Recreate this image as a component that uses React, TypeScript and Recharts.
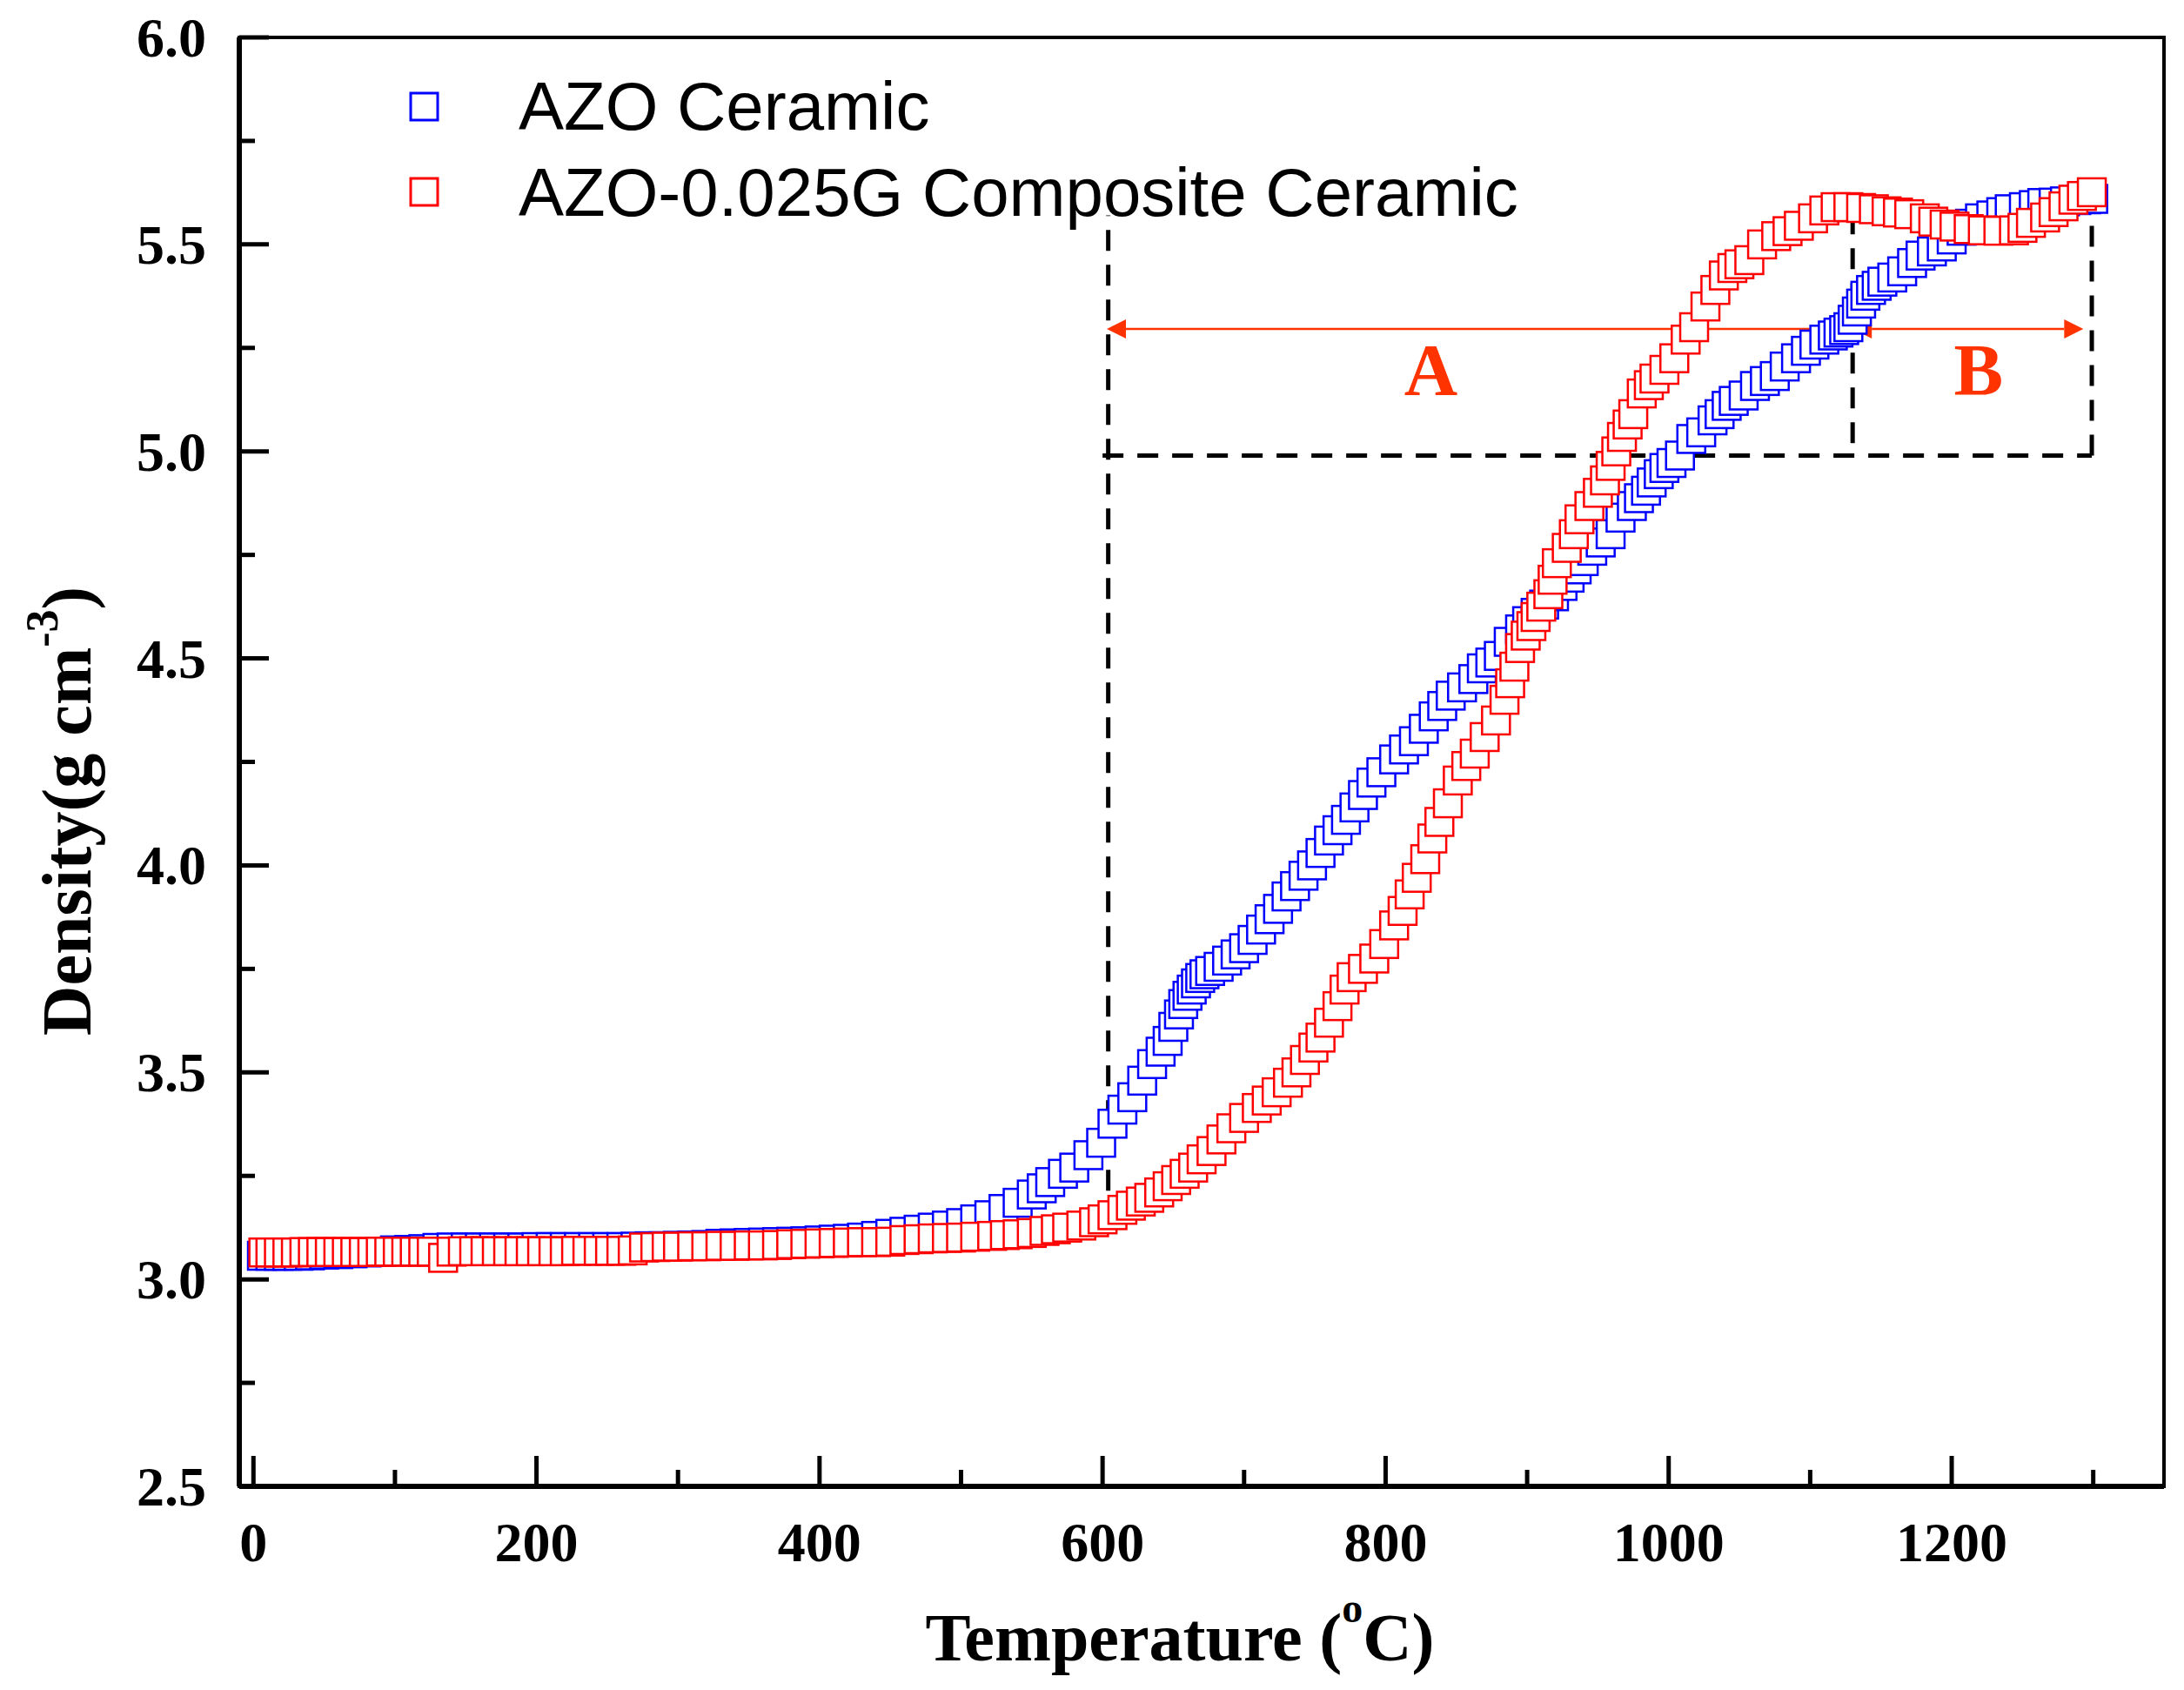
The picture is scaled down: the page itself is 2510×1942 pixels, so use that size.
import React from "react";
import {
  ScatterChart,
  Scatter,
  XAxis,
  YAxis,
  ReferenceLine,
  ReferenceDot,
  ReferenceArea,
  Legend,
} from "recharts";

// [temperature °C, density g cm-3]
const AZO_POINTS: [number, number][] = [
  [6, 3.057], [12, 3.057], [18, 3.057], [24, 3.057], [32, 3.057], [40, 3.058],
  [50, 3.06], [60, 3.061], [70, 3.063], [80, 3.065], [90, 3.067], [100, 3.07],
  [110, 3.071], [120, 3.073], [130, 3.076], [140, 3.077], [150, 3.077], [160, 3.077],
  [170, 3.077], [180, 3.077], [190, 3.077], [200, 3.078], [210, 3.078], [220, 3.078],
  [230, 3.078], [240, 3.078], [250, 3.078], [260, 3.078], [270, 3.079], [280, 3.08],
  [290, 3.08], [300, 3.081], [310, 3.082], [320, 3.083], [330, 3.086], [340, 3.087],
  [350, 3.088], [360, 3.089], [370, 3.09], [380, 3.091], [390, 3.092], [400, 3.094],
  [410, 3.096], [420, 3.098], [430, 3.101], [440, 3.105], [450, 3.11], [460, 3.115],
  [470, 3.12], [480, 3.125], [490, 3.13], [500, 3.136], [510, 3.145], [520, 3.155],
  [530, 3.17], [540, 3.185], [550, 3.205], [557, 3.22], [563, 3.235], [572, 3.255],
  [580, 3.27], [590, 3.3], [599, 3.33], [607, 3.376], [614, 3.41], [621, 3.44],
  [628, 3.48], [635, 3.52], [641, 3.55], [646, 3.576], [650, 3.61], [654, 3.64],
  [657, 3.665], [660, 3.685], [663, 3.7], [666, 3.715], [669, 3.728], [672, 3.737],
  [676, 3.745], [682, 3.755], [688, 3.77], [694, 3.785], [700, 3.8], [706, 3.82],
  [712, 3.845], [718, 3.87], [724, 3.895], [730, 3.925], [736, 3.95], [742, 3.975],
  [748, 4.0], [754, 4.03], [760, 4.06], [766, 4.085], [772, 4.11], [778, 4.14],
  [784, 4.17], [790, 4.2], [797, 4.225], [806, 4.256], [813, 4.28], [820, 4.3],
  [827, 4.33], [834, 4.36], [840, 4.385], [846, 4.41], [854, 4.43], [862, 4.45],
  [868, 4.476], [874, 4.49], [880, 4.506], [887, 4.54], [895, 4.57], [900, 4.59],
  [906, 4.61], [912, 4.63], [919, 4.65], [925, 4.675], [930, 4.695], [935, 4.715],
  [940, 4.735], [946, 4.76], [952, 4.78], [959, 4.8], [966, 4.84], [974, 4.868],
  [979, 4.887], [984, 4.905], [988, 4.925], [993, 4.945], [997, 4.96], [1002, 4.972],
  [1008, 4.99], [1016, 5.03], [1023, 5.046], [1031, 5.075], [1036, 5.09], [1041, 5.11],
  [1046, 5.122], [1053, 5.135], [1061, 5.158], [1068, 5.17], [1075, 5.182], [1082, 5.205],
  [1090, 5.225], [1097, 5.243], [1103, 5.258], [1110, 5.27], [1116, 5.28], [1120, 5.287],
  [1124, 5.293], [1127, 5.3], [1130, 5.318], [1133, 5.338], [1136, 5.357], [1139, 5.376],
  [1143, 5.39], [1147, 5.4], [1151, 5.41], [1158, 5.42], [1165, 5.435], [1172, 5.455],
  [1178, 5.473], [1186, 5.483], [1193, 5.495], [1200, 5.512], [1207, 5.533], [1213, 5.55],
  [1220, 5.563], [1228, 5.57], [1235, 5.578], [1241, 5.585], [1251, 5.59], [1258, 5.595],
  [1264, 5.6], [1272, 5.601], [1280, 5.604], [1288, 5.607], [1295, 5.609], [1300, 5.61],
];

const COMPOSITE_POINTS: [number, number][] = [
  [7, 3.065], [12, 3.065], [18, 3.065], [24, 3.065], [30, 3.065], [36, 3.066],
  [42, 3.066], [48, 3.066], [54, 3.066], [60, 3.066], [66, 3.066], [72, 3.066],
  [78, 3.066], [84, 3.066], [90, 3.067], [96, 3.067], [102, 3.067], [108, 3.067],
  [114, 3.067], [120, 3.067], [126, 3.067], [134, 3.052], [140, 3.067], [148, 3.068],
  [156, 3.068], [164, 3.068], [172, 3.068], [180, 3.068], [188, 3.068], [196, 3.068],
  [204, 3.068], [212, 3.068], [220, 3.068], [228, 3.069], [236, 3.069], [244, 3.069],
  [252, 3.069], [260, 3.069], [268, 3.07], [276, 3.077], [284, 3.078], [292, 3.079],
  [300, 3.079], [310, 3.08], [320, 3.08], [330, 3.081], [340, 3.081], [350, 3.082],
  [360, 3.082], [370, 3.083], [380, 3.085], [390, 3.086], [400, 3.087], [410, 3.088],
  [420, 3.089], [430, 3.09], [440, 3.09], [450, 3.091], [460, 3.095], [470, 3.097],
  [480, 3.099], [490, 3.1], [500, 3.101], [510, 3.103], [522, 3.105], [531, 3.107],
  [540, 3.109], [550, 3.112], [559, 3.117], [567, 3.121], [575, 3.125], [585, 3.13],
  [594, 3.138], [600, 3.145], [607, 3.155], [614, 3.168], [620, 3.178], [627, 3.188],
  [633, 3.197], [640, 3.21], [646, 3.225], [652, 3.24], [658, 3.255], [664, 3.27],
  [670, 3.29], [677, 3.31], [684, 3.338], [691, 3.365], [700, 3.39], [709, 3.414],
  [716, 3.432], [723, 3.452], [731, 3.475], [737, 3.5], [743, 3.53], [749, 3.56],
  [754, 3.584], [760, 3.62], [766, 3.66], [771, 3.7], [776, 3.73], [784, 3.75],
  [792, 3.775], [799, 3.81], [806, 3.855], [812, 3.89], [817, 3.93], [822, 3.97],
  [828, 4.015], [833, 4.065], [838, 4.105], [844, 4.15], [851, 4.205], [857, 4.24],
  [863, 4.27], [870, 4.31], [878, 4.35], [884, 4.4], [888, 4.44], [891, 4.48],
  [895, 4.525], [899, 4.555], [903, 4.578], [906, 4.6], [910, 4.625], [915, 4.655],
  [918, 4.69], [921, 4.73], [928, 4.767], [933, 4.8], [937, 4.836], [944, 4.868],
  [950, 4.9], [955, 4.93], [959, 4.965], [963, 5.0], [967, 5.035], [971, 5.065],
  [975, 5.09], [981, 5.14], [986, 5.16], [990, 5.176], [997, 5.197], [1004, 5.225],
  [1012, 5.27], [1018, 5.3], [1026, 5.35], [1033, 5.39], [1039, 5.425], [1045, 5.443],
  [1050, 5.452], [1057, 5.462], [1066, 5.5], [1076, 5.52], [1084, 5.532], [1092, 5.545],
  [1102, 5.563], [1110, 5.582], [1118, 5.59], [1127, 5.59], [1136, 5.588], [1145, 5.585],
  [1154, 5.58], [1162, 5.577], [1170, 5.573], [1181, 5.563], [1187, 5.555], [1195, 5.548],
  [1202, 5.543], [1212, 5.537], [1222, 5.534], [1233, 5.533], [1244, 5.534], [1250, 5.54],
  [1256, 5.552], [1266, 5.565], [1272, 5.578], [1279, 5.592], [1286, 5.608], [1292, 5.617],
  [1299, 5.626],
];

const SERIES = [
  { name: "AZO Ceramic", color: "#0000ff", points: AZO_POINTS },
  { name: "AZO-0.025G Composite Ceramic", color: "#ff0000", points: COMPOSITE_POINTS },
];

const X_TICKS = [0, 100, 200, 300, 400, 500, 600, 700, 800, 900, 1000, 1100, 1200, 1300];
const Y_TICKS = [2.5, 2.75, 3.0, 3.25, 3.5, 3.75, 4.0, 4.25, 4.5, 4.75, 5.0, 5.25, 5.5, 5.75, 6.0];

// dashed guide lines and A / B ranges
const GUIDE_SEGMENTS = [
  [{ x: 604, y: 3.13 }, { x: 604, y: 5.57 }],
  [{ x: 1130, y: 5.02 }, { x: 1130, y: 5.58 }],
  [{ x: 1299, y: 4.99 }, { x: 1299, y: 5.59 }],
  [{ x: 600, y: 4.99 }, { x: 1299, y: 4.99 }],
];
const RANGE_ARROWS = [
  [{ x: 603, y: 5.296 }, { x: 1123, y: 5.296 }],
  [{ x: 1130, y: 5.296 }, { x: 1293, y: 5.296 }],
];
const RANGE_LABELS = [
  { text: "A", x: 832, y: 5.136 },
  { text: "B", x: 1219, y: 5.136 },
];

const SERIF = "'Times New Roman', 'Liberation Serif', serif";
const SANS = "Arial, 'Liberation Sans', sans-serif";
const ANNOT = "#ff3300";

const W = 2510;
const H = 1942;

const SquareMarker = (color: string) => (props: any) => {
  const { cx, cy } = props;
  if (cx == null || cy == null) return null;
  return (
    <rect x={cx - 16} y={cy - 16} width={32} height={32} fill="#fff" stroke={color} strokeWidth={2.5} />
  );
};

const XTick = (props: any) => {
  const { x, y, payload } = props;
  const v = payload.value;
  const major = v % 200 === 0;
  return (
    <g>
      <line x1={x} y1={y} x2={x} y2={y - (major ? 35 : 19)} stroke="#000" strokeWidth={5} />
      {major && (
        <text x={x} y={y + 86} textAnchor="middle" fontFamily={SERIF} fontWeight="bold" fontSize={64} fill="#000">
          {v}
        </text>
      )}
    </g>
  );
};

const YTick = (props: any) => {
  const { x, y, payload } = props;
  const v = payload.value;
  const major = Math.abs(v * 2 - Math.round(v * 2)) < 1e-6;
  return (
    <g>
      <line x1={x} y1={y} x2={x + (major ? 34 : 18)} y2={y} stroke="#000" strokeWidth={5} />
      {major && (
        <text x={x - 38} y={y + 22} textAnchor="end" fontFamily={SERIF} fontWeight="bold" fontSize={64} fill="#000">
          {v.toFixed(1)}
        </text>
      )}
    </g>
  );
};

const XTitle = () => (
  <text x={1356} y={1908} textAnchor="middle" fontFamily={SERIF} fontWeight="bold" fontSize={78} fill="#000">
    Temperature (
    <tspan fontSize={48} dy={-44}>o</tspan>
    <tspan dy={44}>C)</tspan>
  </text>
);

const YTitle = () => (
  <text
    x={104}
    y={932}
    transform="rotate(-90 104 932)"
    textAnchor="middle"
    fontFamily={SERIF}
    fontWeight="bold"
    fontSize={80}
    fill="#000"
  >
    Density(g cm
    <tspan fontSize={52} dy={-38}>-3</tspan>
    <tspan dy={38}>)</tspan>
  </text>
);

const ArrowShape = (props: any) => {
  const { x1, y1, x2, y2 } = props;
  const L = 22;
  const h = 11;
  return (
    <g>
      <line x1={x1 + L} y1={y1} x2={x2 - L} y2={y2} stroke={ANNOT} strokeWidth={2.5} />
      <polygon points={`${x1},${y1} ${x1 + L},${y1 - h} ${x1 + L},${y1 + h}`} fill={ANNOT} />
      <polygon points={`${x2},${y2} ${x2 - L},${y2 - h} ${x2 - L},${y2 + h}`} fill={ANNOT} />
    </g>
  );
};

const LetterShape = (text: string) => (props: any) => (
  <text x={props.cx} y={props.cy} textAnchor="middle" fontFamily={SERIF} fontWeight="bold" fontSize={85} fill={ANNOT}>
    {text}
  </text>
);

const renderLegend = () => (
  <svg width={1800} height={280} style={{ display: "block" }}>
    {SERIES.map((s, i) => (
      <g key={s.name}>
        <rect x={472} y={107 + i * 98} width={31} height={31} fill="#fff" stroke={s.color} strokeWidth={3} />
        <text x={596} y={149 + i * 99} fontFamily={SANS} fontSize={78} fill="#000">
          {s.name}
        </text>
      </g>
    ))}
  </svg>
);

export default function App() {
  const seriesData = SERIES.map((s) => ({
    ...s,
    data: s.points.map(([x, y]) => ({ x, y })),
  }));

  return (
    <div style={{ position: "absolute", left: 0, top: 0, width: W, height: H, background: "#fff" }}>
      <ScatterChart width={W} height={H} margin={{ top: 43, right: 23, bottom: 0, left: 0 }}>
        <ReferenceArea x1={-10} x2={1350} y1={2.5} y2={6} fill="none" stroke="#000" strokeWidth={4} ifOverflow="visible" />
        <XAxis
          type="number"
          dataKey="x"
          domain={[-10, 1350]}
          ticks={X_TICKS}
          interval={0}
          height={234}
          tickSize={0}
          tickMargin={0}
          tickLine={false}
          tick={XTick}
          axisLine={{ stroke: "#000", strokeWidth: 6 }}
          allowDataOverflow
          label={<XTitle />}
        />
        <YAxis
          type="number"
          dataKey="y"
          domain={[2.5, 6]}
          ticks={Y_TICKS}
          interval={0}
          width={275}
          tickSize={0}
          tickMargin={0}
          tickLine={false}
          tick={YTick}
          axisLine={{ stroke: "#000", strokeWidth: 6 }}
          allowDataOverflow
          label={<YTitle />}
        />
        {seriesData.map((s) => (
          <Scatter
            key={s.name}
            name={s.name}
            data={s.data}
            fill={s.color}
            shape={SquareMarker(s.color)}
            isAnimationActive={false}
          />
        ))}
        {GUIDE_SEGMENTS.map((seg, i) => (
          <ReferenceLine
            key={`g${i}`}
            segment={seg}
            stroke="#000"
            strokeWidth={5}
            strokeDasharray="24 16"
            ifOverflow="visible"
          />
        ))}
        {RANGE_ARROWS.map((seg, i) => (
          <ReferenceLine key={`a${i}`} segment={seg} shape={ArrowShape} ifOverflow="visible" />
        ))}
        {RANGE_LABELS.map((l) => (
          <ReferenceDot key={l.text} x={l.x} y={l.y} r={0} shape={LetterShape(l.text)} ifOverflow="visible" />
        ))}
        <Legend
          content={renderLegend}
          layout="vertical"
          align="center"
          verticalAlign="middle"
          wrapperStyle={{ top: 0, left: 0, width: 1800, height: 280 }}
        />
      </ScatterChart>
    </div>
  );
}
